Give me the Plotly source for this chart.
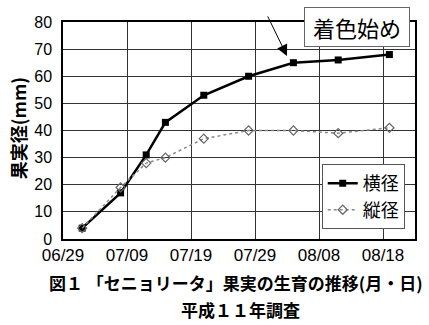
import plotly.graph_objects as go

dates = ["1999-07-02", "1999-07-08", "1999-07-12", "1999-07-15", "1999-07-21",
         "1999-07-28", "1999-08-04", "1999-08-11", "1999-08-19"]
yoko = [4, 17, 31, 43, 53, 60, 65, 66, 68]
tate = [4, 19, 28, 30, 37, 40, 40, 39, 41]
tick_vals = ["1999-06-29", "1999-07-09", "1999-07-19", "1999-07-29", "1999-08-08", "1999-08-18"]
tick_text = ["06/29", "07/09", "07/19", "07/29", "08/08", "08/18"]

JP = "Noto Sans CJK JP"
NUM = "Liberation Sans, Arial, sans-serif"

fig = go.Figure()
fig.add_trace(go.Scatter(
    x=dates, y=yoko, name="横径", mode="lines+markers",
    line=dict(color="black", width=2.5),
    marker=dict(symbol="square", size=7, color="black"),
))
fig.add_trace(go.Scatter(
    x=dates, y=tate, name="縦径", mode="lines+markers",
    line=dict(color="#888888", width=1.5, dash="dot"),
    marker=dict(symbol="diamond-open", size=7, color="#666666", line=dict(width=1.2)),
))

fig.update_layout(
    width=429, height=325,
    margin=dict(l=63, r=12, t=22, b=86),
    paper_bgcolor="white", plot_bgcolor="white",
    showlegend=True,
    legend=dict(
        x=0.735, y=0.345, xanchor="left", yanchor="top",
        bordercolor="#555555", borderwidth=1, bgcolor="white",
        font=dict(family=JP, size=18, color="black"),
        itemwidth=30, tracegroupgap=0,
    ),
    xaxis=dict(
        type="date", range=["1999-06-29", "1999-08-23"],
        tickvals=tick_vals, ticktext=tick_text,
        showgrid=True, gridcolor="#333333", gridwidth=1,
        showline=True, linecolor="black", linewidth=1.5, mirror=True,
        ticks="", tickfont=dict(family=NUM, size=17, color="black"),
    ),
    yaxis=dict(
        range=[0, 80], dtick=10,
        showgrid=True, gridcolor="#333333", gridwidth=1,
        showline=True, linecolor="black", linewidth=1.5, mirror=True,
        ticks="", ticklabelstandoff=6,
        tickfont=dict(family=NUM, size=16, color="black"),
        zeroline=False,
    ),
    annotations=[
        dict(text="果実径(mm)", xref="paper", yref="paper",
             x=-0.128, y=0.51, xanchor="center", yanchor="middle",
             textangle=-90, showarrow=False,
             font=dict(family=JP, size=18, color="black", weight=600)),
        dict(text="図１ 「セニョリータ」果実の生育の推移(月・日)",
             xref="paper", yref="paper", borderpad=0,
             x=0.4925, y=-0.2627, xanchor="center", yanchor="bottom", showarrow=False,
             font=dict(family=JP, size=17, color="black", weight=600)),
        dict(text="平成１１年調査",
             xref="paper", yref="paper", borderpad=0,
             x=0.504, y=-0.2627, xanchor="center", yanchor="top", showarrow=False,
             font=dict(family=JP, size=17, color="black", weight=600)),
        dict(text="着色始め", xref="paper", yref="paper",
             x=0.836, y=0.975, xanchor="center", yanchor="middle", showarrow=False,
             bordercolor="#666666", borderwidth=1, borderpad=3, bgcolor="white",
             width=98, font=dict(family=JP, size=22, color="black")),
        dict(text="", x="1999-08-03", y=67.5, xref="x", yref="y",
             showarrow=True, ax=-20, ay=-41, arrowhead=2, arrowsize=2.2,
             arrowwidth=1, arrowcolor="black"),
    ],
)

fig.write_html("out.html")
